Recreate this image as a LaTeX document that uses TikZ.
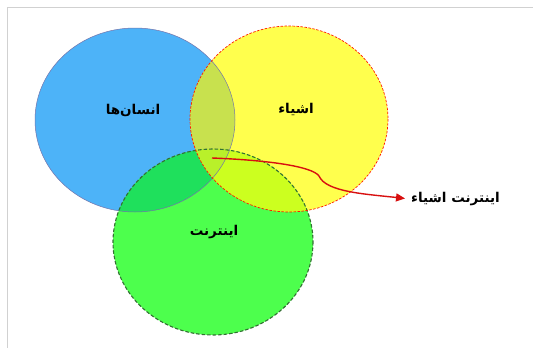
\documentclass[tikz,border=0pt]{standalone}
\usepackage{fontspec}
\newfontfamily\arabicfont[Script=Arabic]{DejaVu Sans}
\TeXXeTstate=1
\usetikzlibrary{arrows.meta}
\definecolor{blueset}{HTML}{4DB3F8}
\definecolor{yellowset}{HTML}{FFFF4D}
\definecolor{greenset}{HTML}{4DFF4D}
\definecolor{byset}{HTML}{C8E14E}
\definecolor{bgset}{HTML}{1FE05C}
\definecolor{ygset}{HTML}{CCFF1F}
\definecolor{bygset}{HTML}{B9F02A}
\definecolor{iotred}{HTML}{D81010}
\tikzset{
  setlabel/.style={font=\arabicfont\bfseries\fontsize{13.5}{15}\selectfont, inner sep=1pt},
}
\begin{document}
\begin{tikzpicture}[x=1pt,y=-1pt]
\useasboundingbox (0,0) rectangle (533,348);
\fill[white] (0,0) rectangle (533,348);
\draw[black!18, line width=1pt] (7,348) -- (7,7) -- (533,7);
% sets
\def\blueset{(135,120) ellipse [x radius=100, y radius=92]}
\def\yellowset{(289,119) ellipse [x radius=99, y radius=93]}
\def\greenset{(213,242) ellipse [x radius=100, y radius=93]}
\fill[blueset] \blueset;
\fill[yellowset] \yellowset;
\fill[greenset] \greenset;
% overlaps
\begin{scope}
  \clip \blueset; \fill[byset] \yellowset;
\end{scope}
\begin{scope}
  \clip \blueset; \fill[bgset] \greenset;
\end{scope}
\begin{scope}
  \clip \yellowset; \fill[ygset] \greenset;
\end{scope}
\begin{scope}
  \clip \blueset; \clip \yellowset; \fill[bygset] \greenset;
\end{scope}
% outlines
\draw[blue!40!black!55, line width=0.5pt] \blueset;
\draw[green!30!black!80, line width=1.1pt, dash pattern=on 3.5pt off 2pt] \greenset;
\draw[red!80!orange, line width=0.7pt, dash pattern=on 2.5pt off 1.5pt] \yellowset;
% labels
\node[setlabel] (people) at (133,110) {\beginR انسان‌ها\endR};
\node[setlabel] (things) at (296,109) {\beginR اشیاء\endR};
\node[setlabel] (internet) at (214,232) {\beginR اینترنت\endR};
\node[setlabel, anchor=west] (iot) at (410,199) {\beginR اینترنت اشیاء\endR};
\coordinate (iotstart) at (212,158);
\draw[iotred, line width=1.4pt, shorten >=5pt, -{Triangle[length=9pt,width=8pt]}]
  (iotstart) .. controls (265,160) and (312,166) .. (319,176)
  .. controls (326,192) and (365,194) .. (iot.west);
\end{tikzpicture}
\end{document}
